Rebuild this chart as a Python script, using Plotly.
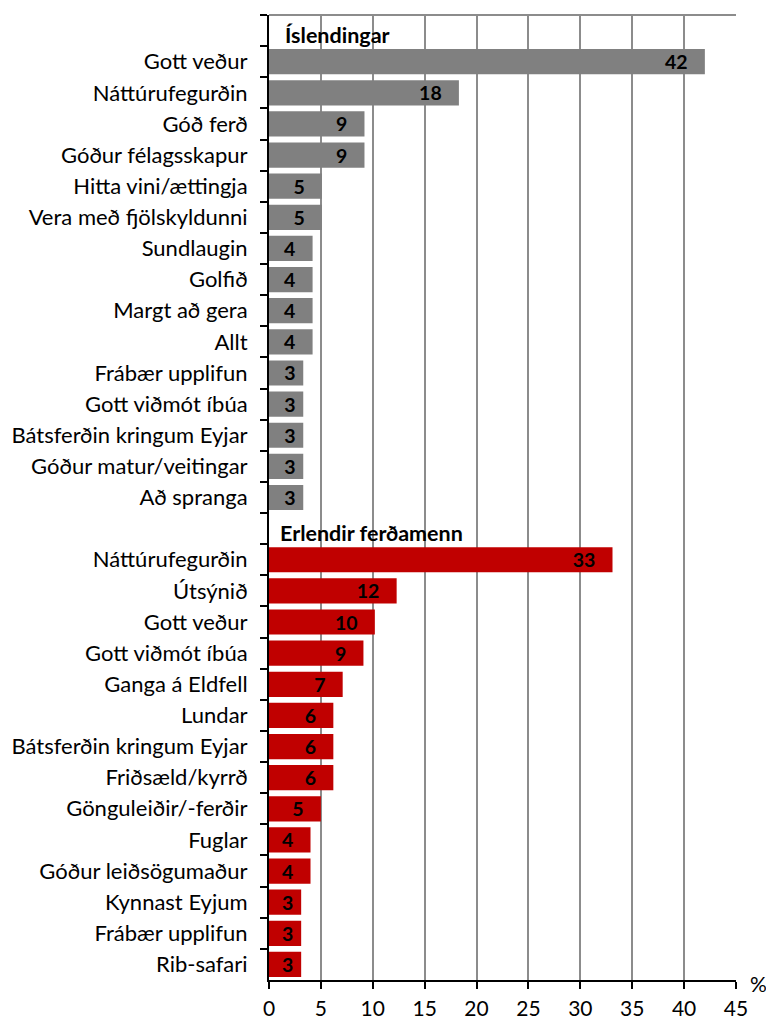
import plotly.graph_objects as go

# Data
isl_labels = ["Gott veður", "Náttúrufegurðin", "Góð ferð", "Góður félagsskapur",
              "Hitta vini/ættingja", "Vera með fjölskyldunni", "Sundlaugin", "Golfið",
              "Margt að gera", "Allt", "Frábær upplifun", "Gott viðmót íbúa",
              "Bátsferðin kringum Eyjar", "Góður matur/veitingar", "Að spranga"]
isl_values = [42.0, 18.3, 9.2, 9.2, 5.1, 5.1, 4.2, 4.2, 4.2, 4.2, 3.3, 3.3, 3.3, 3.3, 3.3]

erl_labels = ["Náttúrufegurðin", "Útsýnið", "Gott veður", "Gott viðmót íbúa",
              "Ganga á Eldfell", "Lundar", "Bátsferðin kringum Eyjar", "Friðsæld/kyrrð",
              "Gönguleiðir/-ferðir", "Fuglar", "Góður leiðsögumaður", "Kynnast Eyjum",
              "Frábær upplifun", "Rib-safari"]
erl_values = [33.1, 12.3, 10.2, 9.1, 7.1, 6.2, 6.2, 6.2, 5.0, 4.0, 4.0, 3.1, 3.1, 3.1]

group_titles = ["Íslendingar", "Erlendir ferðamenn"]
x_ticks = [0, 5, 10, 15, 20, 25, 30, 35, 40, 45]

# unique category keys (duplicates get an invisible suffix)
hdr1 = "\u200b"
hdr2 = "\u200b\u200b"
isl_keys = list(isl_labels)
erl_keys = [l + "\u200b" if l in isl_labels else l for l in erl_labels]
all_keys = [hdr1] + isl_keys + [hdr2] + erl_keys

FONT = "Lato"
LBL = 22
VAL = 19.5

def label(v):
    # inside-end label; narrow bars get less right padding
    pad = "\u00a0" * (3 if v >= 3.8 else 1)
    return f"{round(v)}{pad}"

def bar(keys, vals, color):
    return go.Bar(
        y=keys, x=vals, orientation="h",
        marker=dict(color=color, line=dict(width=0)),
        text=[label(v) for v in vals],
        textposition="inside", insidetextanchor="end", textangle=0,
        constraintext="none",
        textfont=dict(family=FONT, size=VAL, color="black", weight="bold"),
        showlegend=False, hoverinfo="skip",
    )

fig = go.Figure()
fig.add_trace(bar(isl_keys, isl_values, "#808080"))
fig.add_trace(bar(erl_keys, erl_values, "#C00000"))

title_xshift = [14, 9]
for key, title, xs in zip([hdr1, hdr2], group_titles, title_xshift):
    fig.add_annotation(x=0, y=key, xref="x", yref="y", text=f"<b>{title}</b>",
                       showarrow=False, xanchor="left", yanchor="middle",
                       xshift=xs, yshift=-4,
                       font=dict(family=FONT, size=21.5, color="black"))

fig.add_annotation(x=1, y=0, xref="paper", yref="paper", text="%",
                   showarrow=False, xanchor="left", yanchor="middle",
                   xshift=12, yshift=-3, font=dict(family=FONT, size=21, color="black"))

fig.add_shape(type="line", xref="paper", yref="paper", x0=0, x1=1, y0=1, y1=1,
              line=dict(color="#8c8c8c", width=2))

fig.update_layout(
    width=766, height=1019,
    margin=dict(l=269, r=30, t=15, b=39, autoexpand=False),
    paper_bgcolor="white", plot_bgcolor="white",
    barmode="overlay", bargap=0.19,
    uniformtext=dict(minsize=VAL, mode="show"),
    font=dict(family=FONT, size=LBL, color="black"),
    xaxis=dict(range=[0, 45], tickvals=x_ticks, showgrid=True, gridcolor="#8c8c8c",
               gridwidth=2, zeroline=False, showline=True, linecolor="black", linewidth=2,
               ticks="outside", ticklen=7, tickcolor="black", tickwidth=2,
               ticklabelstandoff=2, automargin=False,
               tickfont=dict(family=FONT, size=21, color="black")),
    yaxis=dict(type="category", categoryorder="array", categoryarray=all_keys,
               range=[len(all_keys) - 0.5, -0.5], showgrid=False, zeroline=False,
               showline=True, linecolor="black", linewidth=2,
               tickson="boundaries", ticks="outside", ticklen=7, tickcolor="black",
               tickwidth=2, ticklabelstandoff=15, automargin=False,
               tickfont=dict(family=FONT, size=LBL, color="black")),
)

fig.write_html("out.html",
               config={"displayModeBar": False},
               post_script="document.body.style.margin='0px';"
                           "document.body.style.overflow='hidden';")
